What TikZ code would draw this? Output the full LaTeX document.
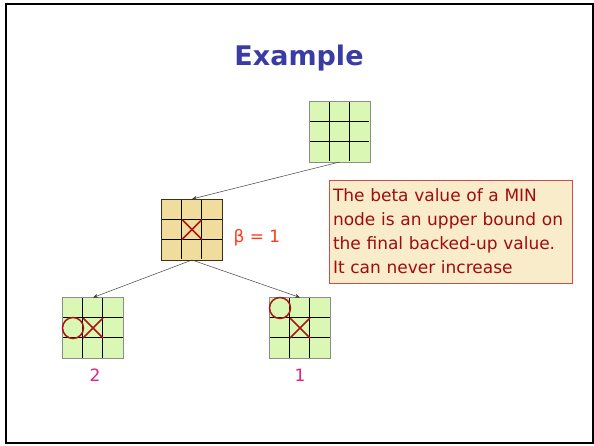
\documentclass[tikz,border=0pt]{standalone}
\usepackage{fontspec}
\setmainfont{DejaVu Sans}
\usetikzlibrary{calc,arrows.meta}
\definecolor{boardgreen}{HTML}{DAF8B4}
\definecolor{boardtan}{HTML}{F0DC9C}
\definecolor{xored}{HTML}{A81818}
\definecolor{titleblue}{HTML}{3A3CA4}
\definecolor{betared}{HTML}{FF3A1A}
\definecolor{valpink}{HTML}{E0247C}
\definecolor{notefill}{HTML}{F8ECCA}
\definecolor{noteborder}{HTML}{C85048}
\definecolor{notetext}{HTML}{A00C0C}
\begin{document}
\begin{tikzpicture}[x=1pt,y=-1pt,
  board/.style={rectangle, minimum size=60pt, inner sep=0pt, line width=1pt},
  gridl/.style={black, line width=0.7pt},
  xo/.style={xored, line width=1.5pt},
  edge/.style={draw=black!75, line width=0.5pt, -{Stealth[length=5pt,width=4pt]}},
  note/.style={draw=noteborder, fill=notefill, line width=0.7pt, text=notetext,
    text width=235pt, inner xsep=4pt, inner ysep=4pt, align=left, font=\fontsize{17}{24}\selectfont},
  val/.style={text=valpink, font=\fontsize{17}{18}\selectfont}]
\useasboundingbox (0,0) rectangle (594,445);
\draw[black, line width=2pt] (6,4) rectangle (593,443);

\node (title) at (299,58) {\fontsize{27}{32}\selectfont\bfseries\color{titleblue}Example};

\node[board, fill=boardgreen] (root) at (339.5,131.5) {};
\node[board, fill=boardtan] (min) at (192,229.5) {};
\node[board, fill=boardgreen] (l) at (93,328) {};
\node[board, fill=boardgreen] (r) at (300,328) {};

\foreach \n in {root,min,l,r} {
  \draw[gridl] ($(\n.north west)+(20,0)$) -- ++(0,60);
  \draw[gridl] ($(\n.north west)+(40,0)$) -- ++(0,60);
  \draw[gridl] ($(\n.north west)+(0,20)$) -- ++(60,0);
  \draw[gridl] ($(\n.north west)+(0,40)$) -- ++(60,0);
}
\foreach \n in {root,l,r} \draw[draw=black!45, line width=1pt] (\n.north west) rectangle (\n.south east);
\draw[draw=black!65!brown, line width=1pt] (min.north west) rectangle (min.south east);

% X and O marks
\draw[xo] ($(min.center)+(-10,-10)$) -- ++(20,20) ($(min.center)+(10,-10)$) -- ++(-20,20);
\draw[xo] ($(l.center)+(-10,-10)$) -- ++(20,20) ($(l.center)+(10,-10)$) -- ++(-20,20);
\draw[xo] ($(l.center)+(-20,0)$) circle (10.5);
\draw[xo] ($(r.center)+(-10,-10)$) -- ++(20,20) ($(r.center)+(10,-10)$) -- ++(-20,20);
\draw[xo] ($(r.center)+(-20,-20)$) circle (10.5);

% edges
\draw[edge] (root.south) -- (min.north);
\draw[edge] (min.south) -- (l.north);
\draw[edge] (min.south) -- (r.north);

\node[text=betared, font=\fontsize{17}{18}\selectfont, anchor=west] (beta) at (230,238) {β = 1};
\node[val] (v2) at (95,375) {2};
\node[val] (v1) at (300,375) {1};

\node[note, minimum height=103pt] (noteb) at (450.5,231.5) {The beta value of a MIN\\node is an upper bound on\\the final backed-up value.\\It can never increase};
\end{tikzpicture}
\end{document}
